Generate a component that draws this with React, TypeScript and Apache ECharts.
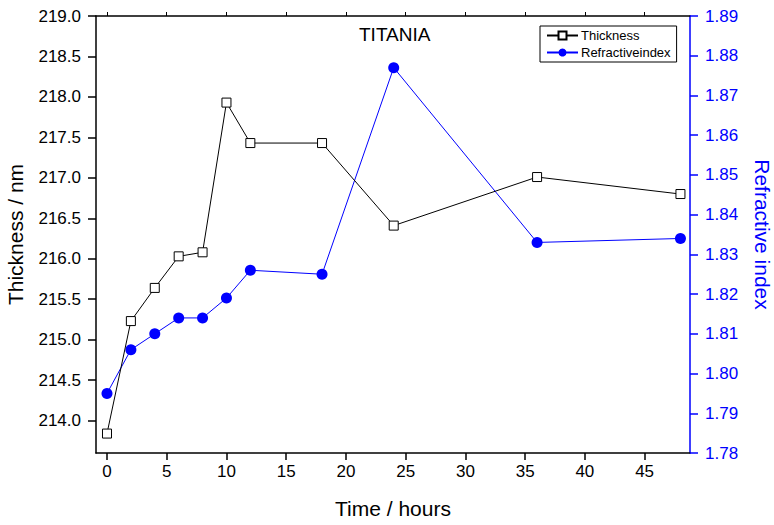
import React, { useEffect, useRef } from "react";
import * as echarts from "echarts";

const hours = [0, 2, 4, 6, 8, 10, 12, 18, 24, 36, 48];
const thickness = [213.84, 215.23, 215.64, 216.03, 216.08, 217.93, 217.43, 217.43, 216.41, 217.01, 216.8];
const refractiveIndex = [1.795, 1.806, 1.81, 1.814, 1.814, 1.819, 1.826, 1.825, 1.877, 1.833, 1.834];
const xTicks = [0, 5, 10, 15, 20, 25, 30, 35, 40, 45];
const leftTicks = [214.0, 214.5, 215.0, 215.5, 216.0, 216.5, 217.0, 217.5, 218.0, 218.5, 219.0];
const rightTicks = [1.78, 1.79, 1.8, 1.81, 1.82, 1.83, 1.84, 1.85, 1.86, 1.87, 1.88, 1.89];

const FONT = "Liberation Sans, Arial, sans-serif";
const BLUE = "#0000ff";

export default function App() {
  const ref = useRef<HTMLDivElement>(null);
  useEffect(() => {
    if (!ref.current) return;
    const chart = echarts.init(ref.current, null, { renderer: "svg" });
    const thickData = hours.map((h, i) => [h, thickness[i]]);
    const riData = hours.map((h, i) => [h, refractiveIndex[i]]);
    chart.setOption({
      animation: false,
      backgroundColor: "#ffffff",
      textStyle: { fontFamily: FONT },
      title: {
        text: "TITANIA",
        left: 359,
        top: 25,
        padding: 0,
        textStyle: { fontSize: 19, fontWeight: "normal", color: "#000", fontFamily: FONT },
      },
      legend: {
        orient: "vertical",
        left: 540,
        top: 26,
        padding: [3, 6, 3, 6],
        borderColor: "#000",
        borderWidth: 1,
        itemWidth: 31,
        itemHeight: 10,
        itemGap: 4,
        textStyle: { fontSize: 13, color: "#000", fontFamily: FONT, padding: [0, 0, 0, -2] },
        data: ["Thickness", "Refractiveindex"],
      },
      grid: { left: 96, right: 84, top: 16, bottom: 72, containLabel: false, outerBoundsMode: "none" },
      xAxis: [
        {
          type: "value",
          min: -0.92,
          max: 48.8,
          position: "bottom",
          name: "Time / hours",
          nameLocation: "middle",
          nameGap: 45,
          nameTextStyle: { fontSize: 21, color: "#000", fontFamily: FONT },
          axisLine: { show: true, onZero: false, lineStyle: { color: "#000", width: 1.5 } },
          axisTick: { show: true, length: 7, inside: false, customValues: xTicks, lineStyle: { color: "#000", width: 1.5 } },
          axisLabel: { show: true, customValues: xTicks, margin: 10, fontSize: 17, color: "#000", fontFamily: FONT },
          splitLine: { show: false },
        },
        {
          type: "value",
          min: -0.92,
          max: 48.8,
          position: "top",
          axisLine: { show: true, onZero: false, lineStyle: { color: "#000", width: 1.5 } },
          axisTick: { show: true, length: 4, inside: false, customValues: xTicks, lineStyle: { color: "#000", width: 1 } },
          axisLabel: { show: false },
          splitLine: { show: false },
        },
      ],
      yAxis: [
        {
          type: "value",
          min: 213.6,
          max: 219.0,
          position: "left",
          name: "Thickness / nm",
          nameLocation: "middle",
          nameGap: 70,
          nameRotate: 90,
          nameTextStyle: { fontSize: 21, color: "#000", fontFamily: FONT },
          axisLine: { show: true, onZero: false, lineStyle: { color: "#000", width: 1.5 } },
          axisTick: { show: true, length: 8, inside: false, customValues: leftTicks, lineStyle: { color: "#000", width: 1.5 } },
          axisLabel: {
            show: true,
            customValues: leftTicks,
            margin: 15,
            fontSize: 17,
            color: "#000",
            fontFamily: FONT,
            formatter: (v: number) => v.toFixed(1),
          },
          splitLine: { show: false },
        },
        {
          type: "value",
          min: 1.78,
          max: 1.89,
          position: "right",
          name: "Refractive index",
          nameLocation: "middle",
          nameGap: 62,
          nameRotate: -90,
          nameTextStyle: { fontSize: 21, color: BLUE, fontFamily: FONT },
          axisLine: { show: true, onZero: false, lineStyle: { color: BLUE, width: 1.5 } },
          axisTick: { show: true, length: 8, inside: false, customValues: rightTicks, lineStyle: { color: BLUE, width: 1.5 } },
          axisLabel: {
            show: true,
            customValues: rightTicks,
            margin: 15,
            fontSize: 17,
            color: BLUE,
            fontFamily: FONT,
            formatter: (v: number) => v.toFixed(2),
          },
          splitLine: { show: false },
        },
      ],
      series: [
        {
          name: "Thickness",
          type: "line",
          xAxisIndex: 0,
          yAxisIndex: 0,
          data: thickData,
          symbol: "rect",
          symbolSize: 9,
          showAllSymbol: true,
          lineStyle: { color: "#000", width: 1 },
          itemStyle: { color: "#ffffff", borderColor: "#000", borderWidth: 1 },
          z: 3,
        },
        {
          name: "Refractiveindex",
          type: "line",
          xAxisIndex: 0,
          yAxisIndex: 1,
          data: riData,
          symbol: "circle",
          symbolSize: 11,
          showAllSymbol: true,
          lineStyle: { color: BLUE, width: 1 },
          itemStyle: { color: BLUE, borderColor: BLUE, borderWidth: 0 },
          z: 2,
        },
      ],
    });
    return () => chart.dispose();
  }, []);
  return <div ref={ref} style={{ width: 774, height: 525, position: "absolute", left: 0, top: 0 }} />;
}
